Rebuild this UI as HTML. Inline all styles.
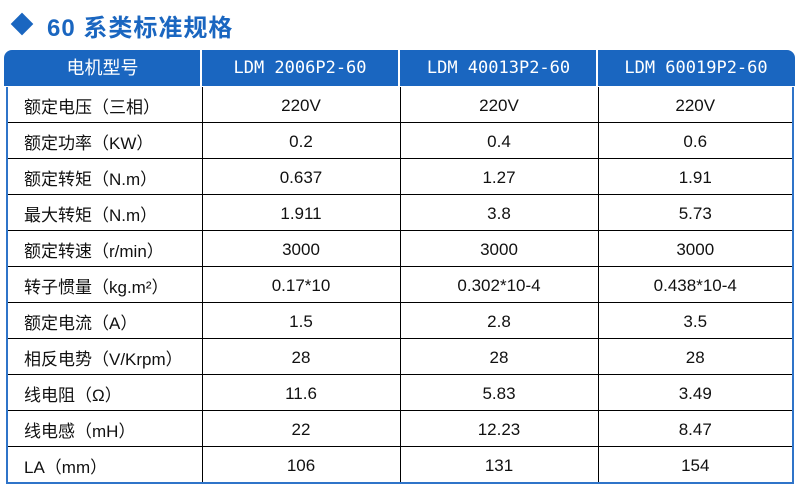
<!DOCTYPE html>
<html><head><meta charset="utf-8"><style>
body{margin:0;width:800px;height:500px;background:#fff;position:relative;overflow:hidden;font-family:"Liberation Sans","Noto Sans CJK SC",sans-serif}
.dia{position:absolute;left:14px;top:16px;width:16px;height:16px;background:#1a66c0;transform:rotate(45deg)}
.title{position:absolute;left:47px;top:8px;font-size:24px;font-weight:bold;color:#1a66c0;letter-spacing:1px}
.hdr{position:absolute;left:4px;top:50px;width:791px;height:36px;background:#1a66c0;border-radius:8px 8px 0 0}
.hc{position:absolute;top:50px;height:36px;line-height:36px;color:#fff;text-align:center;font-size:18px}
.hc.m{font-family:"DejaVu Sans Mono","Liberation Mono",monospace;font-size:17px}
.hv{position:absolute;top:50px;width:2px;height:36px;background:#fff}
table{position:absolute;left:6px;top:87px;width:788px;border-collapse:collapse;table-layout:fixed;border-left:2px solid #2f74c9;border-right:2px solid #2f74c9;border-bottom:2px solid #2f74c9}
td{height:33px;padding:2px 0 0 0;border-bottom:1.5px solid #000;border-right:1.5px solid #000;text-align:center;font-size:17px;color:#111}
td:first-child{text-align:left;padding-left:16px}
td:last-child{border-right:none}
tr:last-child td{border-bottom:none}
</style></head><body>
<div class="dia"></div>
<div class="title">60 系类标准规格</div>
<div class="hdr"></div>
<div class="hc" style="left:4px;width:197px">电机型号</div>
<div class="hc m" style="left:202px;width:196px">LDM 2006P2-60</div>
<div class="hc m" style="left:400px;width:197px">LDM 40013P2-60</div>
<div class="hc m" style="left:598px;width:196px">LDM 60019P2-60</div>
<div class="hv" style="left:200px"></div><div class="hv" style="left:398px"></div><div class="hv" style="left:596px"></div>
<table>
<colgroup><col style="width:195px"><col style="width:198px"><col style="width:198px"><col></colgroup>
<tr><td>额定电压（三相）</td><td>220V</td><td>220V</td><td>220V</td></tr>
<tr><td>额定功率（KW）</td><td>0.2</td><td>0.4</td><td>0.6</td></tr>
<tr><td>额定转矩（N.m）</td><td>0.637</td><td>1.27</td><td>1.91</td></tr>
<tr><td>最大转矩（N.m）</td><td>1.911</td><td>3.8</td><td>5.73</td></tr>
<tr><td>额定转速（r/min）</td><td>3000</td><td>3000</td><td>3000</td></tr>
<tr><td>转子惯量（kg.m²）</td><td>0.17*10</td><td>0.302*10-4</td><td>0.438*10-4</td></tr>
<tr><td>额定电流（A）</td><td>1.5</td><td>2.8</td><td>3.5</td></tr>
<tr><td>相反电势（V/Krpm）</td><td>28</td><td>28</td><td>28</td></tr>
<tr><td>线电阻（Ω）</td><td>11.6</td><td>5.83</td><td>3.49</td></tr>
<tr><td>线电感（mH）</td><td>22</td><td>12.23</td><td>8.47</td></tr>
<tr><td>LA（mm）</td><td>106</td><td>131</td><td>154</td></tr>
</table>
</body></html>
